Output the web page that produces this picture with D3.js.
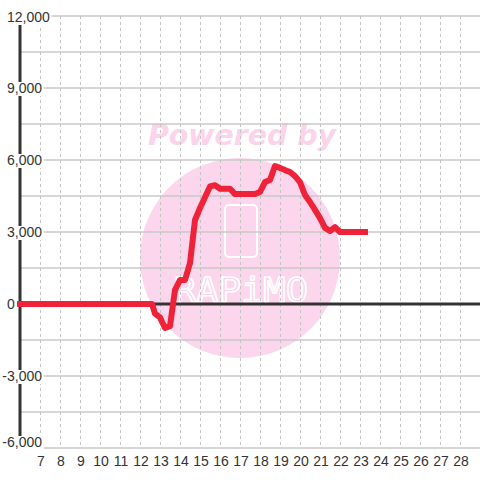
<!DOCTYPE html>
<html>
<head>
<meta charset="utf-8">
<script src="https://cdn.jsdelivr.net/npm/d3@7"></script>
<style>
  body { margin: 0; background: #fff; }
  svg { display: block; }
</style>
</head>
<body>
<div id="chart"></div>
<script>
// Series
const xValues = [6, 12.6, 12.75, 13.0, 13.25, 13.5, 13.75, 14.0, 14.25, 14.5, 14.75, 15.0, 15.25, 15.5, 15.75,
    16.0, 16.25, 16.5, 16.75, 17.0, 17.5, 17.75, 18.0, 18.25, 18.5, 18.75, 19.0, 19.25, 19.5, 19.75,
    20.0, 20.25, 20.5, 20.75, 21.0, 21.25, 21.5, 21.75, 22.0, 22.5, 23.0, 23.25];
const yValues = [0, 0, -400, -560, -1000, -920, 580, 1000, 1000, 1700, 3500, 4000, 4450, 4900, 4950,
    4800, 4800, 4800, 4580, 4580, 4580, 4580, 4670, 5080, 5170, 5750, 5670, 5580, 5500, 5330,
    5080, 4540, 4250, 3920, 3580, 3170, 3040, 3200, 3000, 3000, 3000, 3000];

// Ticks
const xTicks = [7, 8, 9, 10, 11, 12, 13, 14, 15, 16, 17, 18, 19, 20, 21, 22, 23, 24, 25, 26, 27, 28];
const yTicks = [-6000, -3000, 0, 3000, 6000, 9000, 12000];
const yGrid = [-6000, -4500, -3000, -1500, 0, 1500, 3000, 4500, 6000, 7500, 9000, 10500, 12000];

const width = 480, height = 480;
const font = "'Liberation Sans', Arial, sans-serif";

const x = d3.scaleLinear().domain([6, 29]).range([20, 480]);
const y = d3.scaleLinear().domain([-6000, 12000]).range([448, 16]);

const svg = d3.select("#chart")
    .append("svg")
    .attr("width", width)
    .attr("height", height);

svg.append("rect").attr("width", width).attr("height", height).attr("fill", "#fff");

// Watermark
const wm = svg.append("g");
wm.append("circle")
    .attr("cx", 240).attr("cy", 258).attr("r", 100)
    .attr("fill", "#fcd6ec");
wm.append("text")
    .attr("x", 148).attr("y", 145)
    .attr("textLength", 188)
    .attr("lengthAdjust", "spacingAndGlyphs")
    .style("font-family", "'DejaVu Sans', sans-serif")
    .style("font-weight", "bold")
    .style("font-style", "italic")
    .style("font-size", "29px")
    .attr("fill", "#fcd3ea")
    .text("Powered by");
wm.append("rect")
    .attr("x", 225).attr("y", 205).attr("width", 32).attr("height", 52).attr("rx", 4)
    .attr("fill", "none").attr("stroke", "#fff").attr("stroke-width", 2);
wm.append("text")
    .attr("x", 174).attr("y", 302)
    .attr("textLength", 134)
    .attr("lengthAdjust", "spacingAndGlyphs")
    .style("font-family", "'DejaVu Sans Mono', monospace")
    .style("font-size", "34px")
    .attr("fill", "none")
    .attr("stroke", "#fff")
    .attr("stroke-width", 1.6)
    .text("RAPiMO");

// Horizontal grid
svg.append("g")
    .selectAll("line")
    .data(yGrid)
    .enter()
    .append("line")
    .attr("x1", 20).attr("x2", 480)
    .attr("y1", d => y(d)).attr("y2", d => y(d))
    .attr("stroke", "#c8c8c8")
    .attr("stroke-width", 1.5);

// Vertical dashed grid
svg.append("g")
    .selectAll("line")
    .data(xTicks)
    .enter()
    .append("line")
    .attr("x1", d => x(d) + 0.5).attr("x2", d => x(d) + 0.5)
    .attr("y1", y(12000)).attr("y2", y(-6000))
    .attr("stroke", "#c4c4c4")
    .attr("stroke-width", 1)
    .attr("stroke-dasharray", "3,3");

// Zero line and y axis line
svg.append("line")
    .attr("x1", 20).attr("x2", 480)
    .attr("y1", y(0)).attr("y2", y(0))
    .attr("stroke", "#333").attr("stroke-width", 3);
svg.append("line")
    .attr("x1", 20).attr("x2", 20)
    .attr("y1", y(12000)).attr("y2", y(-6000))
    .attr("stroke", "#333").attr("stroke-width", 3);

// Series line
const line = d3.line()
    .x((d, i) => x(xValues[i]))
    .y(d => y(d));

svg.append("path")
    .datum(yValues)
    .attr("d", line)
    .attr("fill", "none")
    .attr("stroke", "#ee2238")
    .attr("stroke-width", 6)
    .attr("stroke-linejoin", "round")
    .attr("stroke-linecap", "square");

// Y labels with white backing
const fmt = d3.format(",");
const yLab = svg.append("g");
yTicks.forEach(t => {
    const cy = Math.max(17, Math.min(442, y(t)));
    const g = yLab.append("g");
    const bg = g.append("rect").attr("fill", "#fff");
    const txt = g.append("text")
        .attr("x", 7)
        .attr("dx", t < 0 ? "-0.333em" : 0)
        .attr("y", cy + 5)
        .style("font-family", font)
        .style("font-size", "14px")
        .attr("fill", "#333")
        .text(fmt(t).replace("\u2212", "-"));
    const b = txt.node().getBBox();
    bg.attr("x", b.x - 1).attr("y", cy - 6)
        .attr("width", b.width + 2.5).attr("height", 14);
});

// X labels
svg.append("g")
    .selectAll("text")
    .data(xTicks)
    .enter()
    .append("text")
    .attr("x", d => x(d) + 1)
    .attr("y", 466)
    .attr("text-anchor", "middle")
    .style("font-family", font)
    .style("font-size", "14px")
    .attr("fill", "#333")
    .text(d => d);
</script>
</body>
</html>
